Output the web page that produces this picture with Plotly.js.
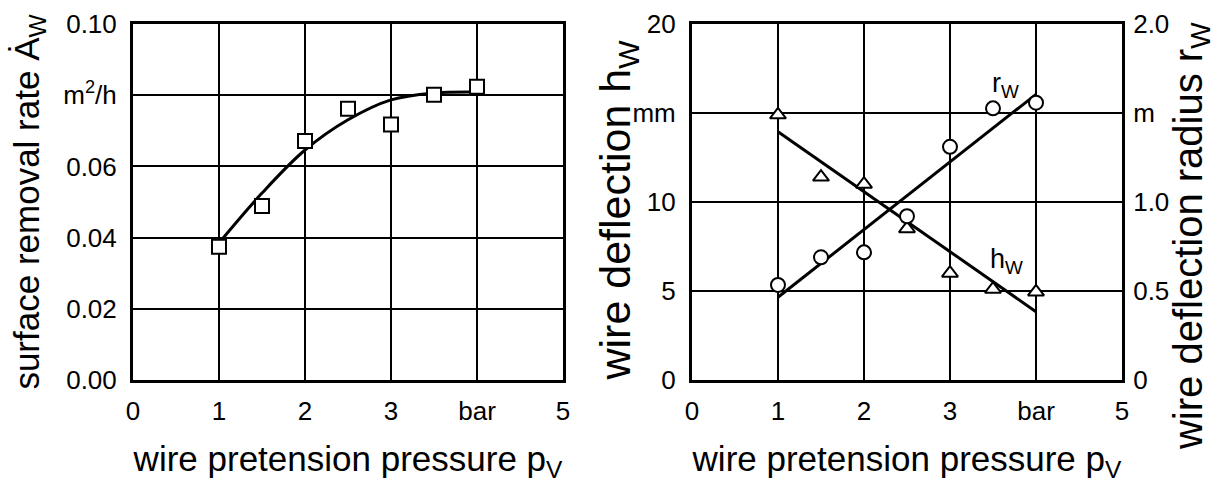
<!DOCTYPE html>
<html>
<head>
<meta charset="utf-8">
<script src="https://cdn.plot.ly/plotly-3.0.1.min.js"></script>
<style>html,body{margin:0;padding:0;background:#fff;}#chart{width:1222px;height:483px;}</style>
</head>
<body>
<div id="chart"></div>
<script>
// Left chart: surface removal rate
const pressureA = [1, 1.5, 2, 2.5, 3, 3.5, 4];
const removalRate = [0.0374, 0.0489, 0.0671, 0.0762, 0.0718, 0.0801, 0.0824];
const fitAx = [1, 1.5, 2, 2.5, 3, 3.5, 4];
const fitAy = [0.0385, 0.0525, 0.0646, 0.0731, 0.0787, 0.0806, 0.0809];

// Right chart: wire deflection h_W (mm) and radius r_W (m)
const pressureB = [1, 1.5, 2, 2.5, 3, 3.5, 4];
const deflection = [14.9, 11.4, 11.0, 8.5, 6.0, 5.1, 4.95];
const radius = [0.534, 0.689, 0.717, 0.92, 1.31, 1.526, 1.558];
const fitHx = [1, 4];
const fitHy = [13.95, 3.84];
const fitRx = [1, 4];
const fitRy = [0.465, 1.605];

const xTickVals = [0, 1, 2, 3, 4, 5];
const xTickText = ['0', '1', '2', '3', 'bar', '5'];
const yATickVals = [0, 0.02, 0.04, 0.06, 0.08, 0.10];
const yATickText = ['0.00', '0.02', '0.04', '0.06', 'm<sup>2</sup>/h', '0.10'];
const yHTickVals = [0, 5, 10, 15, 20];
const yHTickText = ['0', '5', '10', 'mm', '20'];
const yRTickVals = [0, 0.5, 1.0, 1.5, 2.0];
const yRTickText = ['0', '0.5', '1.0', 'm', '2.0'];

const FONT = 'Liberation Sans, Arial, sans-serif';
const tickFont = {family: FONT, size: 26, color: '#000'};
const xTitleFont = {family: FONT, size: 35, color: '#000'};

const traces = [
  {x: fitAx, y: fitAy, mode: 'lines', line: {color: '#000', width: 3, shape: 'spline'}, xaxis: 'x', yaxis: 'y', hoverinfo: 'skip'},
  {x: pressureA, y: removalRate, mode: 'markers', marker: {symbol: 'square', size: 14, color: '#fff', line: {color: '#000', width: 2}}, xaxis: 'x', yaxis: 'y'},
  {x: fitHx, y: fitHy, mode: 'lines', line: {color: '#000', width: 3}, xaxis: 'x2', yaxis: 'y2'},
  {x: fitRx, y: fitRy, mode: 'lines', line: {color: '#000', width: 3}, xaxis: 'x2', yaxis: 'y3'},
  {x: pressureB, y: deflection, mode: 'markers', marker: {symbol: 'triangle-up', size: 14, color: '#fff', line: {color: '#000', width: 2}}, xaxis: 'x2', yaxis: 'y2'},
  {x: pressureB, y: radius, mode: 'markers', marker: {symbol: 'circle', size: 14, color: '#fff', line: {color: '#000', width: 2}}, xaxis: 'x2', yaxis: 'y3'}
];

const axCommon = {
  showline: true, mirror: true, linecolor: '#000', linewidth: 3,
  showgrid: true, gridcolor: '#000', gridwidth: 2,
  zeroline: false, ticks: '', tickfont: tickFont, fixedrange: true
};

const layout = {
  width: 1222, height: 483,
  margin: {l: 133, r: 100, t: 24, b: 103},
  paper_bgcolor: '#fff', plot_bgcolor: '#fff',
  showlegend: false,
  xaxis: Object.assign({}, axCommon, {domain: [0, 0.4348], range: [0, 5], tickmode: 'array', tickvals: xTickVals, ticktext: xTickText,
    ticklabelstandoff: 6,
    title: {text: 'wire pretension pressure p<sub>V</sub>', font: xTitleFont, standoff: 27}, anchor: 'y'}),
  yaxis: Object.assign({}, axCommon, {range: [0, 0.10], tickmode: 'array', tickvals: yATickVals, ticktext: yATickText,
    ticklabelstandoff: 8,
    title: {text: 'surface removal rate Ȧ<sub>W</sub>', font: {family: FONT, size: 35, color: '#000'}, standoff: 14}, anchor: 'x'}),
  xaxis2: Object.assign({}, axCommon, {domain: [0.5652, 1], range: [0, 5], tickmode: 'array', tickvals: xTickVals, ticktext: xTickText,
    ticklabelstandoff: 6,
    title: {text: 'wire pretension pressure p<sub>V</sub>', font: xTitleFont, standoff: 27}, anchor: 'y2'}),
  yaxis2: Object.assign({}, axCommon, {range: [0, 20], tickmode: 'array', tickvals: yHTickVals, ticktext: yHTickText,
    ticklabelstandoff: 8, anchor: 'x2'}),
  yaxis3: Object.assign({}, axCommon, {range: [0, 2], tickmode: 'array', tickvals: yRTickVals, ticktext: yRTickText,
    ticklabelstandoff: 3,
    overlaying: 'y2', side: 'right', anchor: 'x2', showgrid: false, mirror: false}),
  annotations: [
    {x: 0.4899, y: 0.4775, xref: 'paper', yref: 'paper', xanchor: 'center', yanchor: 'middle', textangle: -90,
     text: 'wire deflection h<sub>W</sub>', showarrow: false, font: {family: FONT, size: 43, color: '#000'}},
    {x: 1.0698, y: 0.4045, xref: 'paper', yref: 'paper', xanchor: 'center', yanchor: 'middle', textangle: -90,
     text: 'wire deflection radius r<sub>W</sub>', showarrow: false, font: {family: FONT, size: 40, color: '#000'}},
    {x: 3.64, y: 1.66, xref: 'x2', yref: 'y3', text: 'r<sub>W</sub>', showarrow: false, font: {family: FONT, size: 27, color: '#000'}},
    {x: 3.66, y: 6.7, xref: 'x2', yref: 'y2', text: 'h<sub>W</sub>', showarrow: false, font: {family: FONT, size: 27, color: '#000'}}
  ]
};

Plotly.newPlot('chart', traces, layout, {displayModeBar: false, staticPlot: true});
</script>
</body>
</html>
